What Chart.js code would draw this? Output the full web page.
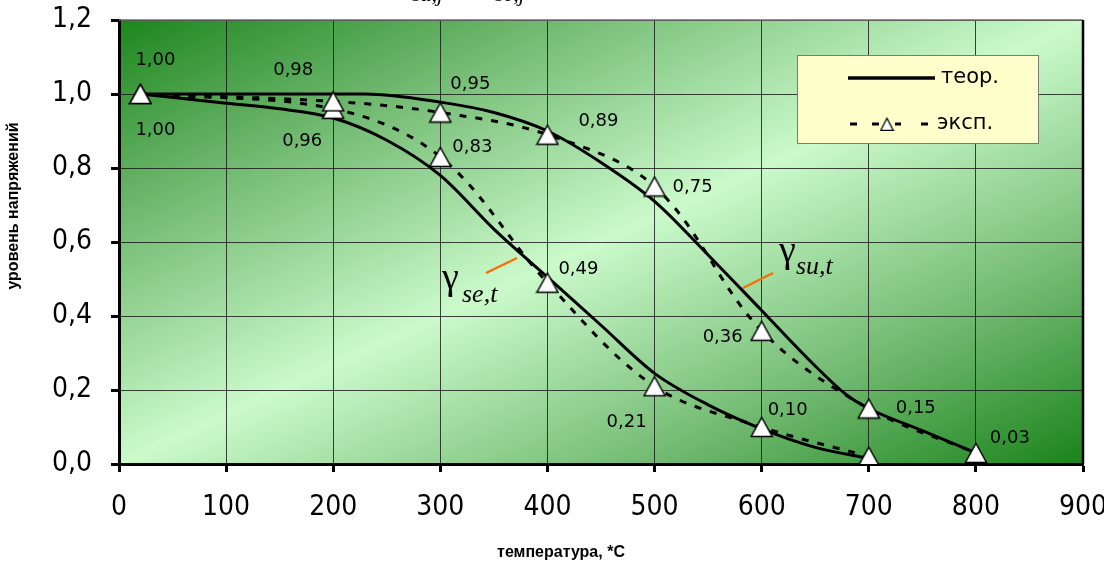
<!DOCTYPE html>
<html lang="ru">
<head>
<meta charset="UTF-8">
<title>Уровень напряжений</title>
<script src="https://cdn.jsdelivr.net/npm/chart.js"></script>
<style>
  html, body { margin: 0; padding: 0; background: #fff; }
  .wrap { position: relative; width: 1104px; height: 565px; }
</style>
</head>
<body>
<div class="wrap"><canvas id="chart" width="1104" height="565"></canvas></div>
<script>
// теоретические кривые (температура, уровень)
const suTheoryT = [20, 100, 200, 230, 300, 350, 400, 450, 500, 550, 600, 650, 680, 700, 750, 800];
const suTheoryV = [1.00, 1.00, 1.00, 1.00, 0.978, 0.95, 0.90, 0.815, 0.71, 0.565, 0.415, 0.265, 0.185, 0.15, 0.09, 0.03];
const seTheoryT = [20, 100, 150, 200, 250, 300, 350, 400, 450, 500, 550, 600, 650, 700];
const seTheoryV = [1.00, 0.975, 0.96, 0.935, 0.875, 0.78, 0.635, 0.505, 0.375, 0.245, 0.16, 0.095, 0.045, 0.015];

// эксперимент
const suExpT = [20, 200, 300, 400, 500, 600, 700, 800];
const suExpV = [1.00, 0.98, 0.95, 0.89, 0.75, 0.36, 0.15, 0.03];
const seExpT = [20, 200, 300, 400, 500, 600, 700];
const seExpV = [1.00, 0.96, 0.83, 0.49, 0.21, 0.10, 0.02];

const suLabels = ['1,00', '0,98', '0,95', '0,89', '0,75', '0,36', '0,15', '0,03'];
const seLabels = ['1,00', '0,96', '0,83', '0,49', '0,21', '0,10', ''];

const xMin = 0, xMax = 900, xStep = 100;
const yMin = 0, yMax = 1.2, yStep = 0.2;

const xTitle = 'температура, *С';
const yTitle = 'уровень напряжений';
const legendTheory = 'теор.';
const legendExp = 'эксп.';

function pts(xs, ys) {
    return xs.map((x, i) => ({ x: x, y: ys[i] }));
}

function comma(v, d) {
    return v.toFixed(d).replace('.', ',');
}

// white triangle marker, centred on its bounding box like Excel
function makeTriangle(w, h, lw) {
    const c = document.createElement('canvas');
    c.width = w + lw * 2;
    c.height = h + lw * 2;
    const g = c.getContext('2d');
    g.beginPath();
    g.moveTo(c.width / 2, lw);
    g.lineTo(c.width - lw, lw + h);
    g.lineTo(lw, lw + h);
    g.closePath();
    g.fillStyle = '#fff';
    g.fill();
    g.lineWidth = lw;
    g.strokeStyle = '#000';
    g.lineJoin = 'miter';
    g.stroke();
    return c;
}
const triBig = makeTriangle(21, 19, 1.5);
const triSmall = makeTriangle(13, 12, 1.3);

const backgroundPlugin = {
    id: 'bg',
    beforeDraw(chart) {
        const { ctx, chartArea: a } = chart;
        const w = a.right - a.left, h = a.bottom - a.top;
        const k = 2 * w * h / (w * w + h * h);
        const g = ctx.createLinearGradient(a.left, a.top, a.left + h * k, a.top + w * k);
        g.addColorStop(0, '#1d861d');
        g.addColorStop(0.22, '#6fb86f');
        g.addColorStop(0.5, '#cbfacb');
        g.addColorStop(0.78, '#6fb86f');
        g.addColorStop(1, '#1a841a');
        ctx.save();
        ctx.fillStyle = g;
        ctx.fillRect(a.left, a.top, w, h);
        ctx.restore();
    }
};

const decorPlugin = {
    id: 'decor',
    afterDatasetsDraw(chart) {
        const { ctx, chartArea: a, scales } = chart;
        const xs = scales.x, ys = scales.y;
        ctx.save();

        // frame: top thin grey, right black
        ctx.strokeStyle = '#6e6e6e';
        ctx.lineWidth = 1.5;
        ctx.beginPath();
        ctx.moveTo(a.left, a.top);
        ctx.lineTo(a.right, a.top);
        ctx.stroke();
        ctx.strokeStyle = '#000';
        ctx.lineWidth = 2.5;
        ctx.beginPath();
        ctx.moveTo(a.right, a.top);
        ctx.lineTo(a.right, a.bottom);
        ctx.stroke();

        // value labels
        ctx.fillStyle = '#000';
        ctx.font = '18px "DejaVu Sans", sans-serif';
        ctx.textAlign = 'center';
        ctx.textBaseline = 'middle';
        const suOff = [[15, -34], [-40, -31], [30, -28], [51, -13], [38, 1], [-39, 7], [47, 0], [34, -15]];
        const seOff = [[15, 36], [-31, 33], [32, -10], [31, -13], [-28, 36], [26, -17], [0, 0]];
        suExpT.forEach((t, i) => {
            ctx.fillText(suLabels[i], xs.getPixelForValue(t) + suOff[i][0], ys.getPixelForValue(suExpV[i]) + suOff[i][1]);
        });
        seExpT.forEach((t, i) => {
            if (!seLabels[i]) return;
            ctx.fillText(seLabels[i], xs.getPixelForValue(t) + seOff[i][0], ys.getPixelForValue(seExpV[i]) + seOff[i][1]);
        });

        // curve names with orange pointers
        ctx.strokeStyle = '#ff6a00';
        ctx.lineWidth = 2;
        ctx.beginPath();
        ctx.moveTo(486, 273); ctx.lineTo(517, 258);
        ctx.moveTo(743, 288); ctx.lineTo(773, 273);
        ctx.stroke();
        ctx.textAlign = 'left';
        ctx.textBaseline = 'alphabetic';
        ctx.font = '38px "Liberation Serif", serif';
        ctx.fillText('γ', 442, 289);
        ctx.fillText('γ', 779, 262);
        ctx.font = 'italic 26px "Liberation Serif", serif';
        ctx.fillText('se,t', 462, 302);
        ctx.fillText('su,t', 796, 274);

        // legend
        const L = { x: 797, y: 55, w: 241, h: 88 };
        ctx.fillStyle = '#ffffcc';
        ctx.fillRect(L.x, L.y, L.w, L.h);
        ctx.strokeStyle = '#7a7a7a';
        ctx.lineWidth = 1;
        ctx.strokeRect(L.x + 0.5, L.y + 0.5, L.w, L.h);
        ctx.strokeStyle = '#000';
        ctx.lineWidth = 3.5;
        ctx.beginPath();
        ctx.moveTo(848, 78); ctx.lineTo(935, 78);
        ctx.stroke();
        ctx.lineWidth = 3;
        ctx.beginPath();
        [[850, 857], [872, 879], [895, 901], [921, 928]].forEach(s => {
            ctx.moveTo(s[0], 124); ctx.lineTo(s[1], 124);
        });
        ctx.stroke();
        ctx.drawImage(triSmall, 887 - triSmall.width / 2, 124 - triSmall.height / 2);
        ctx.fillStyle = '#000';
        ctx.font = '21px "DejaVu Sans", sans-serif';
        ctx.textBaseline = 'middle';
        ctx.fillText(legendTheory, 941, 78);
        ctx.fillText(legendExp, 937, 124);

        ctx.restore();
    },
    afterDraw(chart) {
        const { ctx } = chart;
        ctx.save();
        ctx.fillStyle = '#000';
        ctx.font = 'bold 16px "Liberation Sans", Arial, sans-serif';
        ctx.textAlign = 'center';
        ctx.textBaseline = 'middle';
        ctx.fillText(xTitle, 561, 553);
        ctx.translate(14, 206);
        ctx.rotate(-Math.PI / 2);
        ctx.fillText(yTitle, 0, 0);
        ctx.restore();
        // cut-off formula above the plot
        ctx.save();
        ctx.fillStyle = '#000';
        ctx.font = 'italic 22px "Liberation Serif", serif';
        ctx.textBaseline = 'alphabetic';
        ctx.fillText('su,j', 412, 1);
        ctx.fillText('se,j', 495, 1);
        ctx.restore();
    }
};

const tickFont = { family: '"DejaVu Sans Condensed", "DejaVu Sans", sans-serif', size: 28 };

new Chart(document.getElementById('chart'), {
    type: 'line',
    data: {
        datasets: [
            {
                data: pts(suExpT, suExpV),
                borderColor: '#000', borderWidth: 3, borderDash: [7, 9],
                pointStyle: triBig, pointRadius: 11, tension: 0.35,
                order: 0
            },
            {
                data: pts(seExpT, seExpV),
                borderColor: '#000', borderWidth: 3, borderDash: [7, 9],
                pointStyle: triBig, pointRadius: 11, tension: 0.35,
                order: 0
            },
            {
                data: pts(suTheoryT, suTheoryV),
                borderColor: '#000', borderWidth: 3,
                pointRadius: 0, cubicInterpolationMode: 'monotone',
                order: 1
            },
            {
                data: pts(seTheoryT, seTheoryV),
                borderColor: '#000', borderWidth: 3,
                pointRadius: 0, cubicInterpolationMode: 'monotone',
                order: 1
            }
        ]
    },
    options: {
        responsive: false,
        animation: false,
        devicePixelRatio: 1,
        layout: { padding: { top: 20, right: 21, left: 0, bottom: 0 } },
        plugins: { legend: { display: false }, tooltip: { enabled: false } },
        scales: {
            x: {
                type: 'linear', min: xMin, max: xMax,
                afterFit(s) { s.height = 101; s.paddingLeft = 0; s.paddingRight = 0; },
                border: { display: true, color: '#000', width: 3 },
                grid: { color: 'rgba(20,20,20,0.8)', lineWidth: 1, tickLength: 8, tickColor: '#000', tickWidth: 3 },
                ticks: { stepSize: xStep, color: '#000', font: tickFont, padding: 19, maxRotation: 0 }
            },
            y: {
                min: yMin, max: yMax,
                afterFit(s) { s.width = 119; s.paddingTop = 0; s.paddingBottom = 0; },
                border: { display: true, color: '#000', width: 3 },
                grid: { color: 'rgba(20,20,20,0.8)', lineWidth: 1, tickLength: 8, tickColor: '#000', tickWidth: 3 },
                ticks: { stepSize: yStep, color: '#000', font: tickFont, padding: 19, callback: v => comma(v, 1) }
            }
        }
    },
    plugins: [backgroundPlugin, decorPlugin]
});
</script>
</body>
</html>
